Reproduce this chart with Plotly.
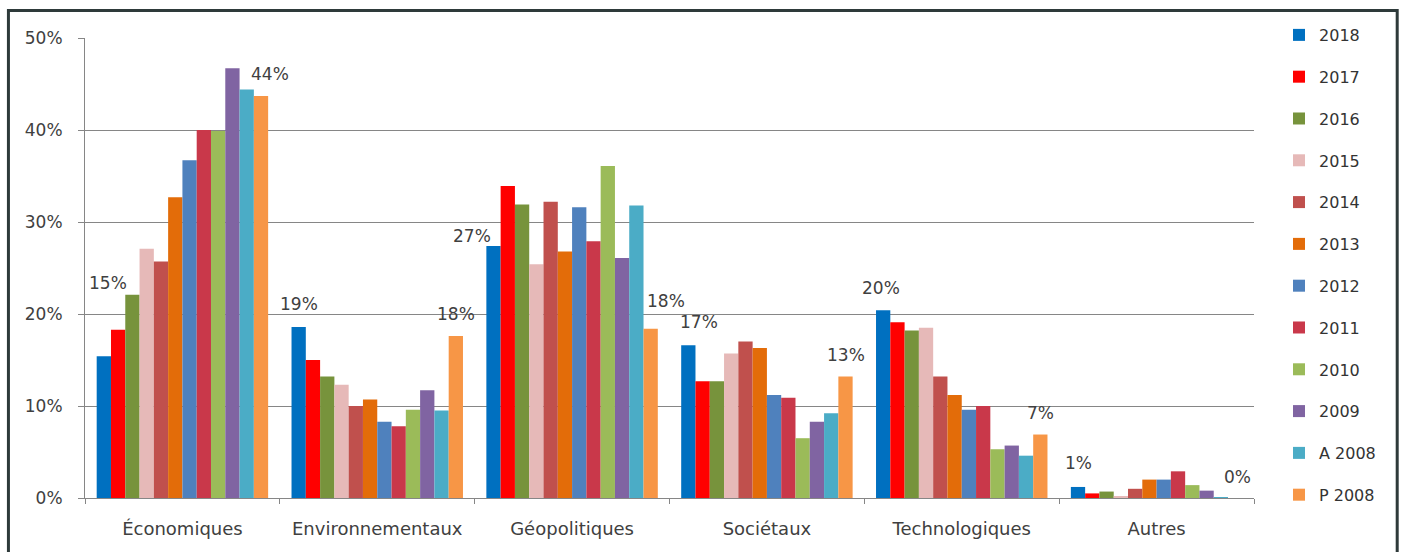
import plotly.graph_objects as go

categories = ["Économiques", "Environnementaux", "Géopolitiques", "Sociétaux", "Technologiques", "Autres"]
series_names = ["2018", "2017", "2016", "2015", "2014", "2013", "2012", "2011", "2010", "2009", "A 2008", "P 2008"]

v2018 = [15.4, 18.6, 27.4, 16.6, 20.4, 1.2]
v2017 = [18.3, 15.0, 33.9, 12.7, 19.1, 0.5]
v2016 = [22.1, 13.2, 31.9, 12.7, 18.2, 0.7]
v2015 = [27.1, 12.3, 25.4, 15.7, 18.5, 0.2]
v2014 = [25.7, 10.0, 32.2, 17.0, 13.2, 1.0]
v2013 = [32.7, 10.7, 26.8, 16.3, 11.2, 2.0]
v2012 = [36.7, 8.3, 31.6, 11.2, 9.6, 2.0]
v2011 = [40.0, 7.8, 27.9, 10.9, 10.0, 2.9]
v2010 = [39.9, 9.6, 36.1, 6.5, 5.3, 1.4]
v2009 = [46.7, 11.7, 26.1, 8.3, 5.7, 0.8]
vA2008 = [44.4, 9.5, 31.8, 9.2, 4.6, 0.1]
vP2008 = [43.7, 17.6, 18.4, 13.2, 6.9, 0.0]

series_values = [v2018, v2017, v2016, v2015, v2014, v2013, v2012, v2011, v2010, v2009, vA2008, vP2008]
colors = ["#0070C0", "#FF0000", "#77933C", "#E6B9B8", "#C0504D", "#E36C09",
          "#4F81BD", "#C9384A", "#9BBB59", "#8064A2", "#4BACC6", "#F79646"]

# data labels shown for series 2018 (index 0) and P 2008 (index 11)
label_series = [0, 11]
# (xshift, yshift) pixel offsets per category for each labelled series
label_shifts = {
    0: [(4, 73), (0, 23), (-22, 10), (11, 23), (-2, 22), (0, 24)],
    11: [(9, 22), (0, 22), (15, 28), (0, 22), (0, 22), (2, 21)],
}

FONT = "DejaVu Sans, sans-serif"
bargap = 0.12
n = len(series_names)

fig = go.Figure()
for i, (name, vals, col) in enumerate(zip(series_names, series_values, colors)):
    fig.add_trace(go.Bar(
        name=name, x=categories, y=vals, marker=dict(color=col, line=dict(width=0)),
        legendgroup=name, hoverinfo="x+y+name",
    ))

annotations = []
for s in label_series:
    vals = series_values[s]
    for ci, v in enumerate(vals):
        off = (s - (n - 1) / 2) * (1 - bargap) / n
        xs, ys = label_shifts[s][ci]
        annotations.append(dict(
            x=ci + off, y=v, xref="x", yref="y", text=f"{v:.0f}%",
            showarrow=False, xshift=xs, yshift=ys,
            font=dict(family=FONT, size=17, color="#404040"),
        ))

fig.update_layout(
    width=1403, height=552,
    margin=dict(l=85, r=149, t=38, b=54),
    paper_bgcolor="white", plot_bgcolor="white",
    barmode="group", bargap=bargap, bargroupgap=0,
    font=dict(family=FONT, size=17, color="#404040"),
    showlegend=True,
    legend=dict(
        x=1.0214, xanchor="left", y=1.0435, yanchor="top",
        font=dict(family=FONT, size=16, color="#333333"),
        tracegroupgap=18, itemwidth=30, bgcolor="rgba(0,0,0,0)",
        maxheight=545,
    ),
    annotations=annotations,
    shapes=[dict(
        type="rect", xref="paper", yref="paper",
        x0=-0.0655, x1=1.1225, y0=-0.16, y1=1.0598,
        line=dict(color="#2E3A3A", width=3), fillcolor="rgba(0,0,0,0)", layer="above",
    )],
)

fig.update_xaxes(
    type="category", showline=True, linecolor="#868686", linewidth=1,
    ticks="outside", tickson="boundaries", ticklen=5, tickcolor="#868686",
    showgrid=False, ticklabelstandoff=14,
    tickfont=dict(family=FONT, size=18, color="#404040"),
)
fig.update_yaxes(
    range=[0, 50], dtick=10, ticksuffix="%",
    showline=True, linecolor="#868686", linewidth=1,
    ticks="outside", ticklen=6, tickcolor="#868686",
    showgrid=True, gridcolor="#868686", gridwidth=1, zeroline=False,
    tickfont=dict(family=FONT, size=17, color="#404040"),
    ticklabelstandoff=12,
)

fig.write_html(
    "out.html",
    config={"displayModeBar": False},
    post_script="document.body.style.margin='0';document.body.style.overflow='hidden';",
)
